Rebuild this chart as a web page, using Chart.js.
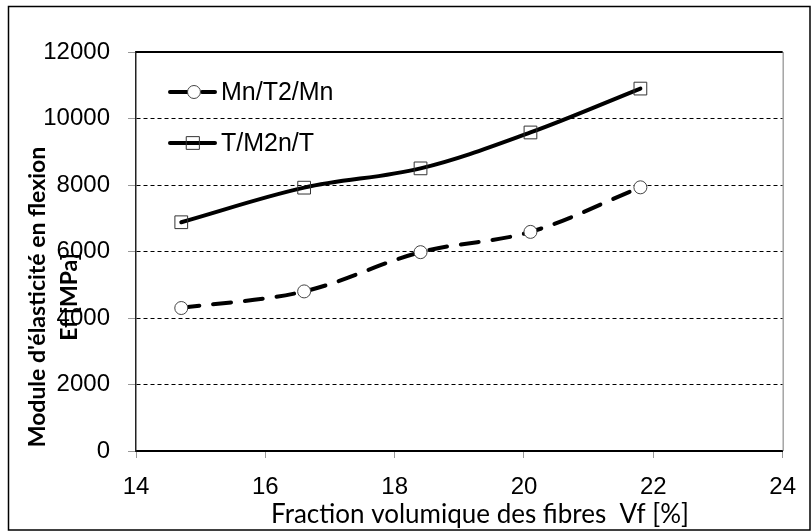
<!DOCTYPE html>
<html>
<head>
<meta charset="utf-8">
<script src="https://cdn.jsdelivr.net/npm/chart.js@4.4.1/dist/chart.umd.min.js"></script>
<style>
  html, body { margin: 0; padding: 0; background: #fff; }
  #wrap { width: 811px; height: 531px; }
</style>
</head>
<body>
<div id="wrap"><canvas id="chart" width="811" height="531"></canvas></div>
<script>
// Data
const fibreFraction = [14.7, 16.6, 18.4, 20.1, 21.8];
const moduleMnT2Mn = [4300, 4800, 5980, 6590, 7930];
const moduleTM2nT = [6880, 7920, 8500, 9580, 10900];
const seriesLabels = ['Mn/T2/Mn', 'T/M2n/T'];
const xTicks = [14, 16, 18, 20, 22, 24];
const yTicks = [0, 2000, 4000, 6000, 8000, 10000, 12000];
const xTitle = 'Fraction volumique des fibres  Vf [%]';
const yTitle = ["Module d'élasticité en flexion", 'Ef [MPa]'];

function toPoints(values) {
    return fibreFraction.map((x, i) => ({ x: x, y: values[i] }));
}

// Draws the outer frame, plot border, titles and the in-plot legend
const decorPlugin = {
    id: 'decor',
    beforeDraw(chart) {
        const ctx = chart.ctx;
        ctx.save();
        ctx.fillStyle = '#fff';
        ctx.fillRect(0, 0, chart.width, chart.height);
        ctx.restore();
    },
    beforeDatasetsDraw(chart) {
        const ctx = chart.ctx;
        const a = chart.chartArea;
        ctx.save();
        // top edge of the plot area is solid
        ctx.strokeStyle = '#000';
        ctx.lineWidth = 2;
        ctx.beginPath();
        ctx.moveTo(a.left, a.top);
        ctx.lineTo(a.right, a.top);
        ctx.stroke();
        // right edge thin grey
        ctx.strokeStyle = '#777';
        ctx.lineWidth = 1;
        ctx.beginPath();
        ctx.moveTo(a.right + 0.5, a.top);
        ctx.lineTo(a.right + 0.5, a.bottom);
        ctx.stroke();
        ctx.restore();
    },
    afterDraw(chart) {
        const ctx = chart.ctx;
        ctx.save();

        // outer frame
        ctx.strokeStyle = '#000';
        ctx.lineWidth = 1.5;
        ctx.strokeRect(8.5, 6.5, 801.5, 523.5);

        // axis titles
        ctx.fillStyle = '#000';
        ctx.textAlign = 'center';
        ctx.textBaseline = 'middle';
        ctx.font = '26px Lato';
        ctx.fillText(xTitle, 480, 515);

        ctx.font = 'bold 23px Lato';
        const yCols = [38, 70];
        yTitle.forEach((line, i) => {
            ctx.save();
            ctx.translate(yCols[i], 297);
            ctx.rotate(-Math.PI / 2);
            ctx.fillText(line, 0, 0);
            ctx.restore();
        });

        // legend inside the plot
        const rows = [92, 143];
        chart.data.datasets.forEach((ds, i) => {
            const y = rows[i];
            ctx.strokeStyle = ds.borderColor;
            ctx.lineWidth = ds.borderWidth;
            ctx.lineCap = 'round';
            ctx.setLineDash(ds.borderDash || []);
            ctx.beginPath();
            ctx.moveTo(170, y);
            ctx.lineTo(215, y);
            ctx.stroke();
            ctx.setLineDash([]);

            ctx.lineWidth = ds.pointBorderWidth;
            ctx.strokeStyle = ds.pointBorderColor;
            ctx.fillStyle = ds.pointBackgroundColor;
            ctx.beginPath();
            if (ds.pointStyle === 'rect') {
                const h = ds.pointRadius * Math.SQRT1_2;
                ctx.rect(193 - h, y - h, 2 * h, 2 * h);
            } else {
                ctx.arc(194, y, ds.pointRadius, 0, Math.PI * 2);
            }
            ctx.fill();
            ctx.stroke();

            ctx.fillStyle = '#000';
            ctx.textAlign = 'left';
            ctx.font = '25px "Liberation Sans"';
            ctx.fillText(ds.label, 221, y + 1);
        });

        ctx.restore();
    }
};

const ctx = document.getElementById('chart').getContext('2d');
new Chart(ctx, {
    type: 'scatter',
    data: {
        datasets: [
            {
                label: seriesLabels[0],
                data: toPoints(moduleMnT2Mn),
                showLine: true,
                borderColor: '#000',
                borderWidth: 4,
                borderDash: [18, 14],
                borderCapStyle: 'round',
                tension: 0.35,
                pointStyle: 'circle',
                pointRadius: 6.5,
                pointBackgroundColor: '#fff',
                pointBorderColor: '#444',
                pointBorderWidth: 1
            },
            {
                label: seriesLabels[1],
                data: toPoints(moduleTM2nT),
                showLine: true,
                borderColor: '#000',
                borderWidth: 4,
                borderCapStyle: 'round',
                tension: 0.35,
                pointStyle: 'rect',
                pointRadius: 9,
                pointBackgroundColor: 'rgba(255,255,255,0)',
                pointBorderColor: '#333',
                pointBorderWidth: 1
            }
        ]
    },
    options: {
        responsive: false,
        animation: false,
        devicePixelRatio: 1,
        layout: { padding: { left: 8, top: 52, right: 23, bottom: 0 } },
        plugins: {
            legend: { display: false },
            tooltip: { enabled: false }
        },
        scales: {
            x: {
                type: 'linear',
                min: xTicks[0],
                max: xTicks[xTicks.length - 1],
                afterBuildTicks: (scale) => { scale.ticks = xTicks.map(v => ({ value: v })); },
                afterFit: (scale) => { scale.height = 80; },
                grid: {
                    drawOnChartArea: false,
                    tickLength: 7,
                    tickColor: '#999',
                    tickWidth: 1
                },
                border: { color: '#000', width: 2 },
                ticks: {
                    padding: 15,
                    color: '#000',
                    font: { family: '"Liberation Sans", Arial', size: 24 },
                    callback: (v) => String(v)
                }
            },
            y: {
                min: yTicks[0],
                max: yTicks[yTicks.length - 1],
                afterBuildTicks: (scale) => { scale.ticks = yTicks.map(v => ({ value: v })); },
                afterFit: (scale) => { scale.width = 128; },
                grid: {
                    color: '#000',
                    lineWidth: 1,
                    tickLength: 8,
                    tickColor: '#999',
                    tickWidth: 1,
                    tickBorderDash: []
                },
                border: { color: '#222', width: 1.5, dash: [4, 3] },
                ticks: {
                    padding: 18,
                    color: '#000',
                    font: { family: '"Liberation Sans", Arial', size: 24 },
                    callback: (v) => String(v)
                }
            }
        }
    },
    plugins: [decorPlugin]
});
</script>
</body>
</html>
